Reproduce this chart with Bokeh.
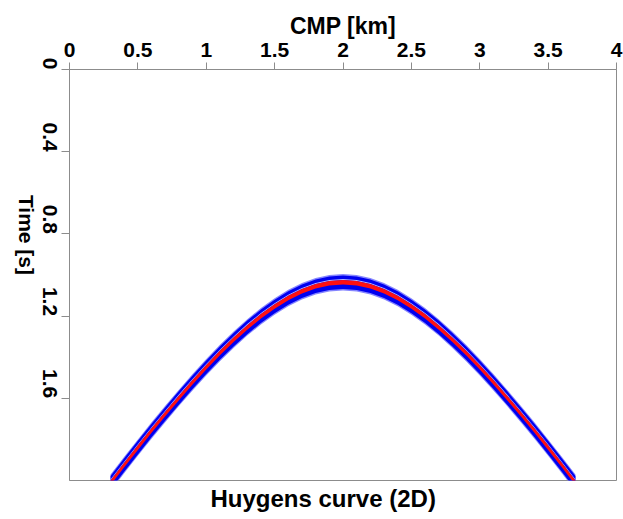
import math
import numpy as np
from bokeh.plotting import figure
from bokeh.models import Range1d, LinearAxis, FixedTicker, Title, CustomJSTickFormatter
from bokeh.embed import file_html
from bokeh.resources import INLINE

# CMP positions (km) and picked traveltimes (s) of the diffraction curve
cmp_km = [0.3, 0.4, 0.5, 0.6, 0.7, 0.8, 0.9, 1.0, 1.1, 1.2, 1.3, 1.4,
          1.5, 1.6, 1.7, 1.8, 1.9, 2.0, 2.1, 2.2, 2.3, 2.4, 2.5, 2.6,
          2.7, 2.8, 2.9, 3.0, 3.1, 3.2, 3.3, 3.4, 3.5, 3.6, 3.7]
time_s = [2.011, 1.925, 1.840, 1.757, 1.676, 1.598, 1.522, 1.449, 1.380,
          1.315, 1.255, 1.201, 1.153, 1.112, 1.079, 1.055, 1.040, 1.035,
          1.040, 1.055, 1.079, 1.112, 1.153, 1.201, 1.255, 1.315, 1.380,
          1.449, 1.522, 1.598, 1.676, 1.757, 1.840, 1.925, 2.011]

x_ticks = [0, 0.5, 1, 1.5, 2, 2.5, 3, 3.5, 4]
y_ticks = [0, 0.4, 0.8, 1.2, 1.6]

FONT = "Liberation Sans"
AXIS_GRAY = "#8c8c8c"
TICK_SIZE = "21px"
TITLE_SIZE = "23px"

p = figure(width=623, height=519, output_backend="svg", toolbar_location=None,
           x_axis_location=None, y_axis_location=None,
           x_range=Range1d(0, 4), y_range=Range1d(2.0, 0),
           min_border_left=68, min_border_right=7,
           min_border_top=69, min_border_bottom=39)
p.grid.visible = False
p.outline_line_color = AXIS_GRAY
p.background_fill_color = "white"
p.border_fill_color = "white"

x = np.array(cmp_km)
t = np.array(time_s)

# wavelet band: blue envelope with a red peak along the traveltime curve
p.varea(x=x, y1=t - 0.040, y2=t + 0.040, fill_color="#7878ff", fill_alpha=0.9)
p.varea(x=x, y1=t - 0.033, y2=t + 0.033, fill_color="#0000f0")
p.varea(x=x, y1=t - 0.016, y2=t - 0.011, fill_color="#b8b8ff")
p.varea(x=x, y1=t - 0.011, y2=t + 0.011, fill_color="#ff1010")

# top axis
xa = LinearAxis(ticker=FixedTicker(ticks=x_ticks), axis_label="CMP [km]")
xa.formatter = CustomJSTickFormatter(code="return String(tick)")
xa.axis_line_color = AXIS_GRAY
xa.major_tick_line_color = AXIS_GRAY
xa.major_tick_out = 7
xa.major_tick_in = 0
xa.minor_tick_line_color = None
xa.major_label_text_font = FONT
xa.major_label_text_font_style = "bold"
xa.major_label_text_font_size = TICK_SIZE
xa.major_label_text_color = "black"
xa.major_label_standoff = 6
xa.axis_label_text_font = FONT
xa.axis_label_text_font_style = "bold"
xa.axis_label_text_font_size = TITLE_SIZE
xa.axis_label_text_color = "black"
xa.axis_label_standoff = 1
p.add_layout(xa, "above")

# left axis: tick labels and axis title both read top to bottom
ya = LinearAxis(ticker=FixedTicker(ticks=y_ticks), axis_label="Time [s]")
ya.formatter = CustomJSTickFormatter(code="return String(tick)")
ya.axis_line_color = AXIS_GRAY
ya.major_tick_line_color = AXIS_GRAY
ya.major_tick_out = 8
ya.major_tick_in = 0
ya.minor_tick_line_color = None
ya.major_label_orientation = -math.pi / 2
ya.major_label_text_font = FONT
ya.major_label_text_font_style = "bold"
ya.major_label_text_font_size = TICK_SIZE
ya.major_label_text_color = "black"
ya.major_label_standoff = 12
ya.axis_label_text_font = FONT
ya.axis_label_text_font_style = "bold"
ya.axis_label_text_font_size = TICK_SIZE
ya.axis_label_text_color = "black"
ya.axis_label_standoff = 6
ya.axis_label_orientation = -math.pi / 2
p.add_layout(ya, "left")

caption = Title(text="Huygens curve (2D)", align="left", offset=141,
                text_font=FONT, text_font_style="bold",
                text_font_size="24px", text_color="black", standoff=4)
p.add_layout(caption, "below")

open("out.html", "w").write(file_html(p, INLINE))
